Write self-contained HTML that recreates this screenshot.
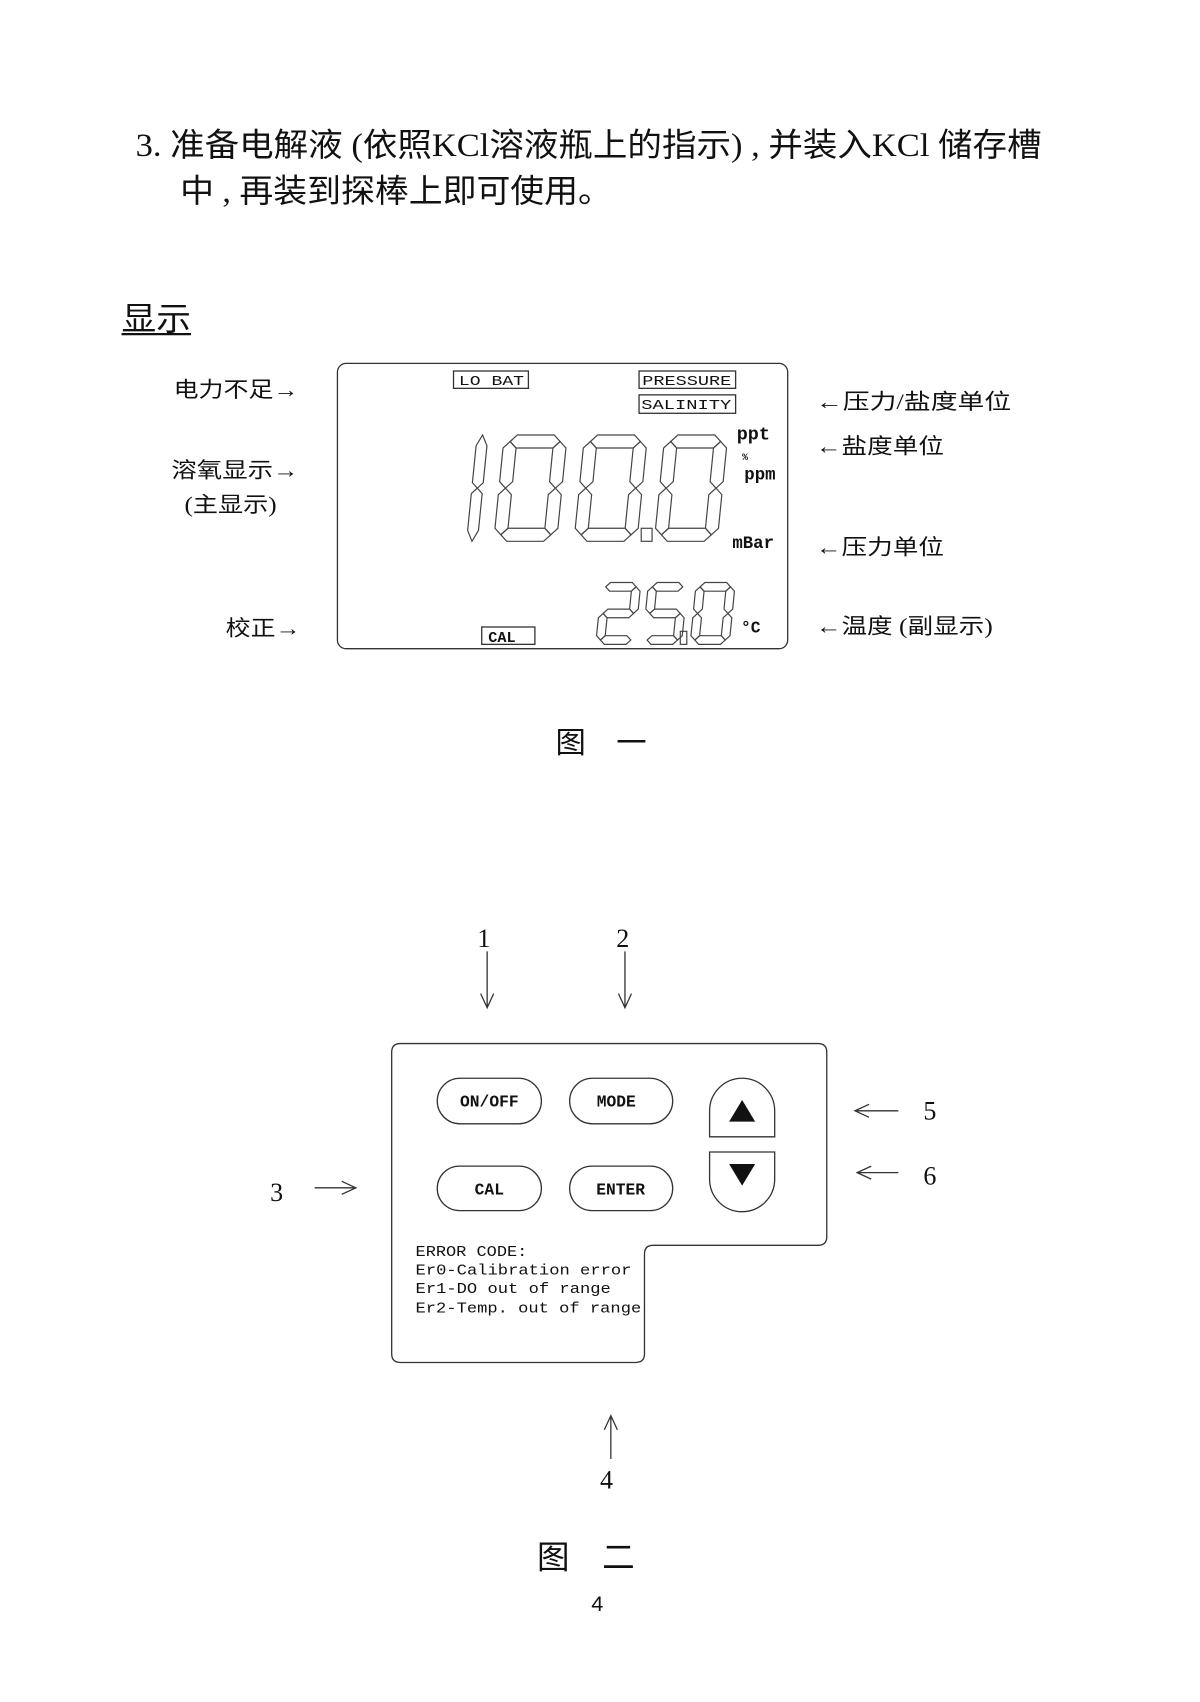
<!DOCTYPE html>
<html><head><meta charset="utf-8"><style>
html,body{margin:0;padding:0;background:#fff;}
svg{display:block;}
.cj{font-family:"Liberation Serif","Noto Sans CJK SC",sans-serif;fill:#111;}
.mo{font-family:"Liberation Mono",monospace;fill:#111;}
</style></head><body>
<svg id="s" width="1200" height="1702" viewBox="0 0 1106 1569" preserveAspectRatio="none" xmlns="http://www.w3.org/2000/svg">
<rect width="1106" height="1569" fill="#fff"/>
<g class="cj">
<text x="125" y="144" font-size="30" textLength="835" lengthAdjust="spacingAndGlyphs">3. 准备电解液 (依照KCl溶液瓶上的指示) , 并装入KCl 储存槽</text>
<text x="166" y="186" font-size="30" textLength="398" lengthAdjust="spacingAndGlyphs">中 , 再装到探棒上即可使用。</text>
<text x="112" y="304" font-size="30" textLength="64" lengthAdjust="spacingAndGlyphs">显示</text>
<text x="160" y="366" font-size="20" textLength="115" lengthAdjust="spacingAndGlyphs">电力不足→</text>
<text x="158" y="440" font-size="20" textLength="117" lengthAdjust="spacingAndGlyphs">溶氧显示→</text>
<text x="170" y="472" font-size="20" textLength="85" lengthAdjust="spacingAndGlyphs">(主显示)</text>
<text x="208" y="586" font-size="20" textLength="69" lengthAdjust="spacingAndGlyphs">校正→</text>
<text x="752" y="377" font-size="20" textLength="180" lengthAdjust="spacingAndGlyphs">←压力/盐度单位</text>
<text x="752" y="418" font-size="20" textLength="118" lengthAdjust="spacingAndGlyphs">←盐度单位</text>
<text x="752" y="511" font-size="20" textLength="118" lengthAdjust="spacingAndGlyphs">←压力单位</text>
<text x="752" y="584" font-size="20" textLength="163" lengthAdjust="spacingAndGlyphs">←温度 (副显示)</text>
<text x="512" y="694" font-size="28">图　一</text>
<text x="495" y="1446" font-size="30">图　二</text>
<text x="545" y="1485" font-size="20" font-family="Liberation Sans,sans-serif">4</text>
<text x="440" y="873" font-size="24">1</text>
<text x="568" y="873" font-size="24">2</text>
<text x="249" y="1107" font-size="24">3</text>
<text x="851" y="1032" font-size="24">5</text>
<text x="851" y="1092" font-size="24">6</text>
<text x="553" y="1372" font-size="24">4</text>
</g>
<line x1="112" y1="308" x2="176" y2="308" stroke="#111" stroke-width="2"/>
<g fill="none" stroke="#333" stroke-width="1.2">
<rect x="311" y="335" width="415" height="263" rx="8"/>
<rect x="418" y="342" width="69" height="16"/>
<rect x="589" y="342" width="89" height="16"/>
<rect x="589" y="364" width="89" height="17"/>
<rect x="444" y="578" width="49" height="16"/>
<path d="M449 877V928M443 916L449 929L455 916"/>
<path d="M576 877V928M570 916L576 929L582 916"/>
<path d="M290 1095H327M315 1089L328 1095L315 1101"/>
<path d="M828 1024H789M801 1018L788 1024L801 1030"/>
<path d="M828 1081H791M803 1075L790 1081L803 1087"/>
<path d="M563 1345V1306M557 1318L563 1305L569 1318"/>
<path d="M369 962H754Q762 962 762 970V1140Q762 1148 754 1148H602Q594 1148 594 1156V1248Q594 1256 586 1256H369Q361 1256 361 1248V970Q361 962 369 962Z"/>
<rect x="403" y="994" width="96" height="42" rx="21"/>
<rect x="525" y="994" width="95" height="42" rx="21"/>
<rect x="403" y="1075" width="96" height="41" rx="20.5"/>
<rect x="525" y="1075" width="95" height="41" rx="20.5"/>
<path d="M654 1048V1024A30 30 0 0 1 714 1024V1048Z"/>
<path d="M654 1062H714V1087A30 30 0 0 1 654 1087Z"/>
</g>
<path d="M672 1034L684 1014L696 1034Z" fill="#111"/>
<path d="M672 1073L696 1073L684 1093Z" fill="#111"/>
<g class="mo" font-weight="bold" font-size="15" text-anchor="middle">
<text x="451" y="1020">ON/OFF</text>
<text x="568" y="1020">MODE</text>
<text x="451" y="1101">CAL</text>
<text x="572" y="1101">ENTER</text>
</g>
<g class="mo" font-size="14" fill="#333">
<text x="383" y="1158" textLength="103" lengthAdjust="spacingAndGlyphs">ERROR CODE:</text>
<text x="383" y="1175" textLength="199" lengthAdjust="spacingAndGlyphs">Er0-Calibration error</text>
<text x="383" y="1192" textLength="180" lengthAdjust="spacingAndGlyphs">Er1-DO out of range</text>
<text x="383" y="1210" textLength="208" lengthAdjust="spacingAndGlyphs">Er2-Temp. out of range</text>
</g>
<g class="mo" font-size="13" fill="#333">
<text x="423" y="355" textLength="60" lengthAdjust="spacingAndGlyphs">LO BAT</text>
<text x="592" y="355" textLength="82" lengthAdjust="spacingAndGlyphs">PRESSURE</text>
<text x="591" y="377" textLength="83" lengthAdjust="spacingAndGlyphs">SALINITY</text>
</g>
<g class="mo" font-weight="bold">
<text x="450" y="592" font-size="14">CAL</text>
<text x="679" y="405" font-size="17">ppt</text>
<text x="684" y="424" font-size="9">%</text>
<text x="686" y="442" font-size="16">ppm</text>
<text x="675" y="505" font-size="16">mBar</text>
<text x="683" y="583" font-size="15">°C</text>
</g>
<g id="seg" fill="none" stroke="#444" stroke-width="1.1"></g>
</svg>
<script>
(function(){
var g=document.getElementById('seg'),out='';
function P(pts,sk,y0,h){return '<polygon points="'+pts.map(function(p){return (p[0]+sk*(y0+h-p[1])).toFixed(1)+','+p[1].toFixed(1)}).join(' ')+'"/>';}
function digit(x,y,w,h,segs,t){
 var sk=0.1,m=y+h/2,s='';
 var S={
 a:[[x+t/2,y+t/2],[x+t,y],[x+w-t,y],[x+w-t/2,y+t/2],[x+w-t,y+t],[x+t,y+t]],
 g:[[x+t/2,m],[x+t,m-t/2],[x+w-t,m-t/2],[x+w-t/2,m],[x+w-t,m+t/2],[x+t,m+t/2]],
 d:[[x+t/2,y+h-t/2],[x+t,y+h-t],[x+w-t,y+h-t],[x+w-t/2,y+h-t/2],[x+w-t,y+h],[x+t,y+h]],
 f:[[x+t/2,y+t/2],[x+t,y+t],[x+t,m-t/2],[x+t/2,m],[x,m-t/2],[x,y+t]],
 b:[[x+w-t/2,y+t/2],[x+w,y+t],[x+w,m-t/2],[x+w-t/2,m],[x+w-t,m-t/2],[x+w-t,y+t]],
 e:[[x+t/2,m],[x+t,m+t/2],[x+t,y+h-t],[x+t/2,y+h-t/2],[x,y+h-t],[x,m+t/2]],
 c:[[x+w-t/2,m],[x+w,m+t/2],[x+w,y+h-t],[x+w-t/2,y+h-t/2],[x+w-t,y+h-t],[x+w-t,m+t/2]]};
 segs.split('').forEach(function(k){s+=P(S[k],sk,y,h);});
 return s;}
function one(x,y,h,t){var sk=0.1,m=y+h/2;return P([[x+t/2,y],[x+t,y+t],[x+t,m-t/2],[x+t/2,m],[x,m-t/2],[x,y+t]],sk,y,h)+P([[x+t/2,m],[x+t,m+t/2],[x+t,y+h-t],[x+t/2,y+h],[x,y+h-t],[x,m+t/2]],sk,y,h);}
out+=one(430,401,98,10);
out+=digit(455,401,58,98,'abcdef',12);
out+=digit(529,401,58,98,'abcdef',12);
out+='<rect x="591" y="487" width="10" height="12"/>';
out+=digit(603,401,58,98,'abcdef',12);
out+=digit(549,537,36,57,'abged',8);
out+=digit(592,537,36,57,'afgcd',8);
out+='<rect x="627" y="582" width="6" height="12"/>';
out+=digit(636,537,36,57,'abcdef',8);
g.innerHTML=out;})();
</script>
</body></html>
